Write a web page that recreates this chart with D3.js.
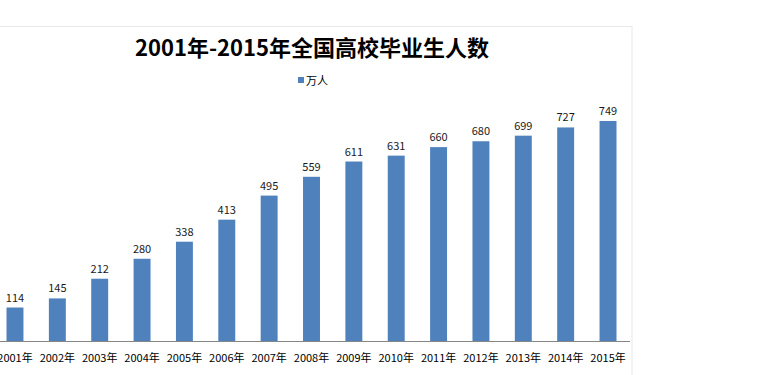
<!DOCTYPE html>
<html>
<head>
<meta charset="utf-8">
<script src="https://cdn.jsdelivr.net/npm/d3@7"></script>
<style>
  body { margin: 0; background: #fff; }
  text { font-family: "Noto Sans CJK SC", "Noto Sans", sans-serif; }
</style>
</head>
<body>
<div id="chart"></div>
<script>
// Data
const years = ['2001年', '2002年', '2003年', '2004年', '2005年', '2006年', '2007年', '2008年',
    '2009年', '2010年', '2011年', '2012年', '2013年', '2014年', '2015年'];
const graduates = [114, 145, 212, 280, 338, 413, 495, 559, 611, 631, 660, 680, 699, 727, 749];
const seriesName = '万人';
const title = '2001年-2015年全国高校毕业生人数';

const W = 758, H = 375;
const baseY = 341;

const svg = d3.select('#chart')
    .append('svg')
    .attr('width', W)
    .attr('height', H);

// Chart area border (faint)
svg.append('rect')
    .attr('x', -2)
    .attr('y', 26.5)
    .attr('width', 634)
    .attr('height', 400)
    .style('fill', 'none')
    .style('stroke', '#e8e8e8');

// Scales
const xScale = d3.scaleBand()
    .domain(years)
    .range([-6.2, 629.2])
    .paddingInner(0.6)
    .paddingOuter(0.3);

const yScale = d3.scaleLinear()
    .domain([0, 800])
    .range([baseY, 106]);

// Title
svg.append('text')
    .attr('x', 312)
    .attr('y', 56)
    .attr('text-anchor', 'middle')
    .style('font-size', '22px')
    .style('font-weight', 'bold')
    .style('fill', '#000')
    .text(title);

// Legend
svg.append('rect')
    .attr('x', 298)
    .attr('y', 77)
    .attr('width', 6)
    .attr('height', 6)
    .style('fill', '#4F81BD');

svg.append('text')
    .attr('x', 306)
    .attr('y', 84.5)
    .style('font-size', '11px')
    .style('fill', '#000')
    .text(seriesName);

// Bars
const rows = years.map((y, i) => ({ year: y, value: graduates[i] }));

svg.selectAll('.bar')
    .data(rows)
    .enter()
    .append('rect')
    .attr('class', 'bar')
    .attr('x', d => xScale(d.year))
    .attr('y', d => yScale(d.value))
    .attr('width', xScale.bandwidth())
    .attr('height', d => yScale(0) - yScale(d.value))
    .style('fill', '#4F81BD');

// Value labels
svg.selectAll('.val')
    .data(rows)
    .enter()
    .append('text')
    .attr('class', 'val')
    .attr('x', d => xScale(d.year) + xScale.bandwidth() / 2)
    .attr('y', d => yScale(d.value) - 6)
    .attr('text-anchor', 'middle')
    .style('font-size', '11px')
    .style('fill', '#1a1a1a')
    .text(d => d.value);

// X axis
const xAxis = d3.axisBottom(xScale).tickSize(0).tickPadding(13);

const gx = svg.append('g')
    .attr('transform', `translate(0, ${baseY})`)
    .call(xAxis);

gx.select('.domain')
    .attr('d', `M-6.2,0.5H630`)
    .style('stroke', '#868686');

gx.selectAll('text')
    .style('font-size', '11px')
    .style('font-family', '"Noto Sans CJK SC", sans-serif')
    .style('fill', '#000');
</script>
</body>
</html>
